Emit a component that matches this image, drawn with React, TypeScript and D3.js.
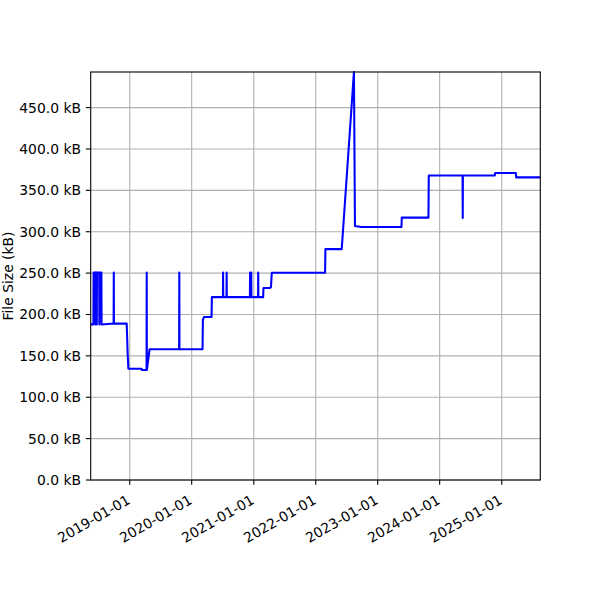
import React from "react";
import * as d3 from "d3";

const dates: string[] = [
  "2018-05-16", "2018-06-01", "2018-06-02", "2018-06-12", "2018-06-13", "2018-06-14",
  "2018-06-20", "2018-06-21", "2018-06-22", "2018-07-05", "2018-07-06", "2018-07-07",
  "2018-07-18", "2018-07-19", "2018-09-28", "2018-09-29", "2018-09-30", "2018-12-14",
  "2018-12-20", "2018-12-24", "2019-03-12", "2019-03-13", "2019-04-10", "2019-04-11",
  "2019-04-12", "2019-04-28", "2019-10-19", "2019-10-20", "2019-10-21", "2020-03-05",
  "2020-03-07", "2020-03-14", "2020-04-27", "2020-04-29", "2020-07-03", "2020-07-04",
  "2020-07-05", "2020-07-24", "2020-07-25", "2020-07-26", "2020-12-09", "2020-12-10",
  "2020-12-11", "2020-12-16", "2020-12-17", "2020-12-18", "2021-01-26", "2021-01-27",
  "2021-01-28", "2021-02-25", "2021-02-27", "2021-04-06", "2021-04-12", "2021-04-17",
  "2022-02-25", "2022-02-27", "2022-06-03", "2022-08-14", "2022-08-20", "2022-09-26",
  "2023-05-21", "2023-05-23", "2023-10-27", "2023-10-29", "2024-05-15", "2024-05-16",
  "2024-05-17", "2024-11-21", "2024-11-23", "2025-03-25", "2025-03-27", "2025-08-16",
];

const sizesKB: number[] = [
  188, 188, 250.8, 250.8, 188, 250.8,
  250.8, 188, 250.8, 250.8, 188, 250.8,
  250.8, 188, 189, 250.8, 189, 189,
  151, 134.5, 134.5, 133, 133, 250.8,
  133, 158, 158, 250.8, 158, 158,
  193.5, 197, 197, 221, 221, 250.8,
  221, 221, 250.8, 221, 221, 250.8,
  221, 221, 250.8, 221, 221, 250.8,
  221, 221, 232, 232, 233, 250.5,
  250.5, 279, 279, 493, 307, 305.7,
  305.7, 317, 317, 368, 368, 316.5,
  368, 368, 371, 371, 365.7, 365.7,
];

const yTicks: number[] = [0, 50, 100, 150, 200, 250, 300, 350, 400, 450];
const yLabel = "File Size (kB)";

export default function App() {
  const W = 600, H = 600;
  const left = 90.7, right = 540.3, top = 72, bottom = 480;
  const parse = d3.utcParse("%Y-%m-%d");
  const data = dates.map((d, i) => ({ t: parse(d) as Date, v: sizesKB[i] }));
  const x = d3.scaleUtc()
    .domain(d3.extent(data, (d) => d.t) as [Date, Date])
    .range([left, right]);
  const y = d3.scaleLinear()
    .domain([0, d3.max(data, (d) => d.v) as number])
    .range([bottom, top]);
  const xTicks = x.ticks(d3.utcYear.every(1) as any);
  const line = d3.line<{ t: Date; v: number }>()
    .x((d) => x(d.t))
    .y((d) => y(d.v));
  const fmt = d3.utcFormat("%Y-%m-%d");
  const font = "DejaVu Sans, sans-serif";
  const fs = 13.9;

  return (
    <svg width={W} height={H} style={{ position: "absolute", left: 0, top: 0, background: "#fff" }}
      fontFamily={font}>
      <rect x={0} y={0} width={W} height={H} fill="#fff" />
      <g>
        {xTicks.map((t, i) => (
          <line key={"gx" + i} x1={x(t)} x2={x(t)} y1={top} y2={bottom} stroke="#b0b0b0" strokeWidth={1.1} />
        ))}
        {yTicks.map((v, i) => (
          <line key={"gy" + i} x1={left} x2={right} y1={y(v)} y2={y(v)} stroke="#b0b0b0" strokeWidth={1.1} />
        ))}
      </g>
      <defs>
        <clipPath id="clip">
          <rect x={left} y={top - 1} width={right - left} height={bottom - top + 1} />
        </clipPath>
      </defs>
      <path d={line(data) as string} fill="none" stroke="#0000ff" strokeWidth={2.08}
        strokeLinejoin="round" clipPath="url(#clip)" />
      <rect x={left} y={top} width={right - left} height={bottom - top} fill="none" stroke="#000" strokeWidth={1.1} />
      {yTicks.map((v, i) => (
        <g key={"ty" + i} transform={`translate(${left},${y(v)})`}>
          <line x1={0} x2={-4.86} stroke="#000" strokeWidth={1.1} />
          <text x={-9.72} dy="0.36em" textAnchor="end" fontSize={fs} fill="#000">{v.toFixed(1) + " kB"}</text>
        </g>
      ))}
      {xTicks.map((t, i) => (
        <g key={"tx" + i}>
          <line x1={x(t)} x2={x(t)} y1={bottom} y2={bottom + 4.86} stroke="#000" strokeWidth={1.1} />
          <text transform={`translate(${x(t) - 4},${bottom + 13.4}) rotate(-30)`} dy="0.78em"
            textAnchor="end" fontSize={fs} fill="#000">{fmt(t)}</text>
        </g>
      ))}
      <text transform={`translate(13,${(top + bottom) / 2}) rotate(-90)`} textAnchor="middle"
        fontSize={fs} fill="#000">{yLabel}</text>
    </svg>
  );
}
